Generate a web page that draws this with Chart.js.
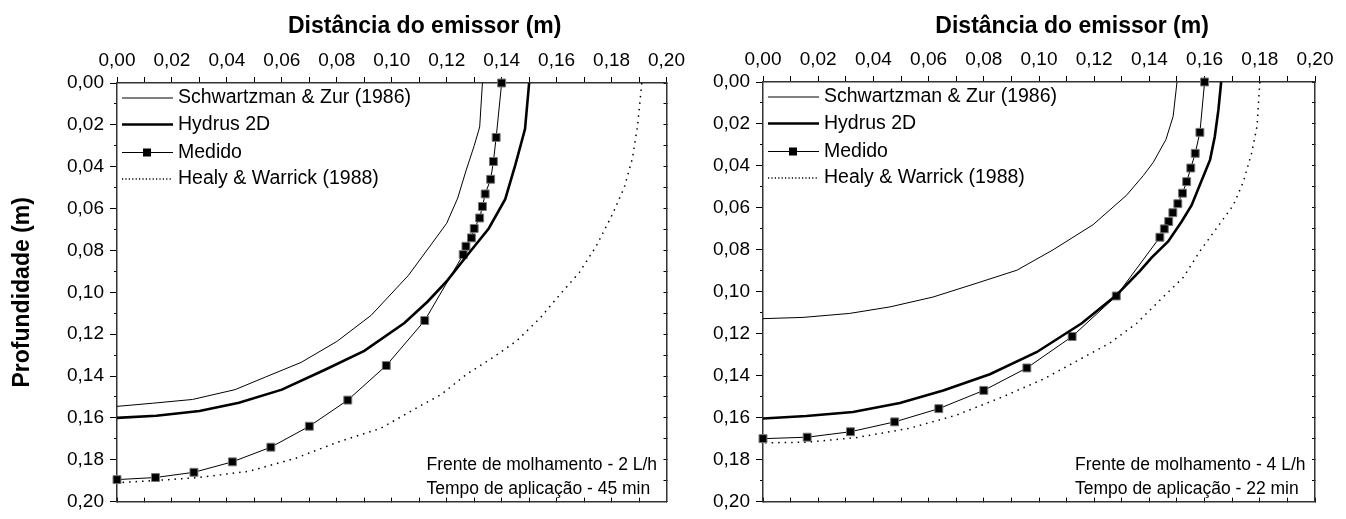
<!DOCTYPE html>
<html>
<head>
<meta charset="utf-8">
<script src="https://cdn.jsdelivr.net/npm/chart.js@4.4.1/dist/chart.umd.min.js"></script>
<style>
  html, body { margin: 0; padding: 0; background: #fff; }
  body { width: 1346px; height: 519px; position: relative; overflow: hidden; }
  .panel { position: absolute; top: 0; height: 519px; }
  #leftPanel { left: 0; width: 690px; }
  #rightPanel { left: 690px; width: 656px; }
</style>
</head>
<body>
<div class="panel" id="leftPanel"><canvas id="chartA"></canvas></div>
<div class="panel" id="rightPanel"><canvas id="chartB"></canvas></div>
<script>
// series names
const seriesNames = ['Schwartzman & Zur (1986)', 'Hydrus 2D', 'Medido', 'Healy & Warrick (1988)'];

// 2 L/h - 45 min : distance (m) / depth (m)
const szA_x = [0.133, 0.132, 0.130, 0.127, 0.124, 0.120, 0.115, 0.106, 0.0925, 0.080, 0.067, 0.054, 0.043, 0.0275, 0.013, 0];
const szA_y = [0, 0.021, 0.030, 0.042, 0.055, 0.067, 0.076, 0.092, 0.111, 0.1235, 0.1335, 0.1405, 0.1465, 0.1512, 0.153, 0.1545];
const hyA_x = [0.150, 0.1485, 0.145, 0.1413, 0.1353, 0.1274, 0.1202, 0.113, 0.1046, 0.090, 0.0757, 0.060, 0.0444, 0.030, 0.0143, 0];
const hyA_y = [0, 0.022, 0.039, 0.0555, 0.0695, 0.0824, 0.0944, 0.1045, 0.1147, 0.128, 0.137, 0.1465, 0.1528, 0.1567, 0.159, 0.160];
const meA_x = [0.140, 0.138, 0.137, 0.136, 0.134, 0.133, 0.132, 0.130, 0.129, 0.127, 0.126, 0.112, 0.098, 0.084, 0.070, 0.056, 0.042, 0.028, 0.014, 0];
const meA_y = [0, 0.026, 0.0375, 0.046, 0.053, 0.059, 0.0645, 0.0695, 0.074, 0.078, 0.082, 0.1135, 0.135, 0.1515, 0.164, 0.174, 0.181, 0.186, 0.1885, 0.1895];
const heA_x = [0.191, 0.1895, 0.1876, 0.1846, 0.1804, 0.1744, 0.1683, 0.161, 0.154, 0.1455, 0.137, 0.1274, 0.1178, 0.110, 0.096, 0.0805, 0.065, 0.048, 0.029, 0.013, 0];
const heA_y = [0, 0.020, 0.036, 0.050, 0.0625, 0.078, 0.0905, 0.1014, 0.1123, 0.1232, 0.131, 0.139, 0.149, 0.1545, 0.165, 0.1715, 0.1793, 0.1855, 0.1886, 0.190, 0.191];

// 4 L/h - 22 min
const szB_x = [0.150, 0.1486, 0.146, 0.1414, 0.1378, 0.1317, 0.1196, 0.1051, 0.092, 0.0786, 0.0616, 0.046, 0.0314, 0.0145, 0];
const szB_y = [0, 0.0164, 0.0274, 0.0383, 0.0446, 0.054, 0.068, 0.080, 0.0897, 0.0954, 0.1025, 0.1072, 0.1103, 0.1122, 0.1128];
const hyB_x = [0.166, 0.165, 0.1637, 0.162, 0.1583, 0.1553, 0.1517, 0.1468, 0.1408, 0.1366, 0.128, 0.1155, 0.0991, 0.0822, 0.0653, 0.0496, 0.0326, 0.0157, 0];
const hyB_y = [0, 0.0133, 0.026, 0.037, 0.049, 0.0587, 0.0665, 0.076, 0.0837, 0.090, 0.1017, 0.115, 0.1288, 0.1393, 0.147, 0.153, 0.1573, 0.1592, 0.1604];
const meB_x = [0.160, 0.1583, 0.1566, 0.155, 0.1535, 0.152, 0.1503, 0.1485, 0.147, 0.1454, 0.1438, 0.128, 0.112, 0.0956, 0.080, 0.0637, 0.0477, 0.0317, 0.016, 0];
const meB_y = [0, 0.024, 0.034, 0.041, 0.0475, 0.053, 0.058, 0.0623, 0.0665, 0.070, 0.074, 0.102, 0.1213, 0.1363, 0.147, 0.1557, 0.162, 0.1667, 0.1693, 0.170];
const heB_x = [0.180, 0.179, 0.1771, 0.174, 0.1704, 0.1644, 0.1583, 0.1523, 0.1438, 0.1354, 0.1257, 0.1148, 0.1016, 0.087, 0.070, 0.0532, 0.0339, 0.0157, 0];
const heB_y = [0, 0.021, 0.0336, 0.0477, 0.0587, 0.0696, 0.0806, 0.0931, 0.104, 0.115, 0.1244, 0.1322, 0.1416, 0.150, 0.1588, 0.165, 0.1695, 0.1717, 0.172];

const notesA = ['Frente de molhamento - 2 L/h', 'Tempo de aplicação - 45 min'];
const notesB = ['Frente de molhamento - 4 L/h', 'Tempo de aplicação - 22 min'];

const xTitle = 'Distância do emissor (m)';
const yTitle = 'Profundidade (m)';

Chart.defaults.font.family = '"Liberation Sans", Arial, sans-serif';
Chart.defaults.color = '#000';

const toPoints = (xs, ys) => xs.map((x, i) => ({ x: x, y: ys[i] }));
const fmt = v => v.toFixed(2).replace('.', ',');
const fmtEven = v => (Math.round(v * 100) % 2 === 0 ? fmt(v) : '');

// titles, legend and notes drawn inside the panel
const decor = {
    id: 'decor',
    afterDraw(chart, args, opts) {
        const ctx = chart.ctx;
        const a = chart.chartArea;
        ctx.save();
        ctx.fillStyle = '#000';

        ctx.font = 'bold 23px "Liberation Sans", Arial, sans-serif';
        ctx.textAlign = 'center';
        ctx.textBaseline = 'alphabetic';
        ctx.fillText(xTitle, a.left + 0.56 * (a.right - a.left), 33);

        const rows = [15, 41.5, 69.5, 96];
        ctx.font = '19.5px "Liberation Sans", Arial, sans-serif';
        ctx.textAlign = 'left';
        ctx.textBaseline = 'middle';
        chart.data.datasets.forEach((ds, i) => {
            const y = a.top + rows[i];
            ctx.strokeStyle = ds.borderColor;
            ctx.lineWidth = ds.borderWidth;
            ctx.setLineDash(ds.legendDash || []);
            ctx.beginPath();
            ctx.moveTo(a.left + 5, y);
            ctx.lineTo(a.left + 56, y);
            ctx.stroke();
            ctx.setLineDash([]);
            if (ds.pointRadius > 0) {
                ctx.fillStyle = ds.pointBackgroundColor;
                ctx.fillRect(a.left + 26, y - 4, 8, 8);
            }
            ctx.fillStyle = '#000';
            ctx.fillText(ds.label, a.left + 61, y);
        });

        ctx.font = '17.5px "Liberation Sans", Arial, sans-serif';
        ctx.textBaseline = 'alphabetic';
        ctx.fillText(opts.notes[0], a.right - 240, a.bottom - 32);
        ctx.fillText(opts.notes[1], a.right - 240, a.bottom - 8);
        ctx.restore();
    }
};

function makePanel(id, sets, notes, leftW, topH, padRight, padBottom, showYTitle) {
    const axisCol = '#333';
    const datasets = [
        { label: seriesNames[0], data: toPoints(sets[0][0], sets[0][1]), borderColor: '#000', borderWidth: 1, pointRadius: 0 },
        { label: seriesNames[1], data: toPoints(sets[1][0], sets[1][1]), borderColor: '#000', borderWidth: 2.6, pointRadius: 0 },
        { label: seriesNames[2], data: toPoints(sets[2][0], sets[2][1]), borderColor: '#000', borderWidth: 1,
          pointStyle: 'rect', pointRadius: 5.6, pointBackgroundColor: '#000', pointBorderColor: '#777', pointBorderWidth: 1 },
        { label: seriesNames[3], data: toPoints(sets[3][0], sets[3][1]), borderColor: '#000', borderWidth: 1.5,
          borderDash: [1.5, 5], legendDash: [1.2, 2.2], pointRadius: 0 }
    ];
    datasets.forEach(d => { d.showLine = true; d.fill = false; d.tension = 0; d.clip = false; d.xAxisID = 'x'; d.yAxisID = 'y'; });

    const range = { type: 'linear', min: 0, max: 0.2 };
    const border = { display: true, color: axisCol, width: 1.5 };

    new Chart(document.getElementById(id), {
        type: 'scatter',
        data: { datasets: datasets },
        options: {
            responsive: true,
            maintainAspectRatio: false,
            animation: false,
            layout: { padding: { left: 0, top: 0, right: padRight, bottom: padBottom } },
            plugins: { legend: { display: false }, tooltip: { enabled: false }, decor: { notes: notes } },
            scales: {
                x: Object.assign({}, range, {
                    position: 'top',
                    ticks: { stepSize: 0.01, autoSkip: false, maxRotation: 0, padding: 5, font: { size: 19 }, callback: fmtEven },
                    grid: { drawOnChartArea: false, tickLength: 6, color: '#000' },
                    border: border,
                    afterFit: s => { s.height = topH; }
                }),
                xb: Object.assign({}, range, {
                    position: 'bottom',
                    ticks: { stepSize: 0.01, display: false },
                    grid: { drawOnChartArea: false, tickLength: -4, color: '#000' },
                    border: border,
                    afterFit: s => { s.height = 0; }
                }),
                y: Object.assign({}, range, {
                    position: 'left', reverse: true, weight: 1,
                    ticks: { stepSize: 0.02, autoSkip: false, padding: 6, font: { size: 19 }, callback: fmt },
                    grid: { drawOnChartArea: false, tickLength: 7, color: '#000' },
                    border: border,
                    title: { display: showYTitle, text: yTitle, font: { size: 23, weight: 'bold' }, padding: { top: 9, bottom: 0 } },
                    afterFit: s => { s.width = leftW; }
                }),
                yMinor: Object.assign({}, range, {
                    position: 'left', reverse: true, weight: 0,
                    ticks: { stepSize: 0.01, display: false },
                    grid: { drawOnChartArea: false, tickLength: 3, color: '#000' },
                    border: { display: false },
                    afterFit: s => { s.width = 0; }
                }),
                yr: Object.assign({}, range, {
                    position: 'right', reverse: true,
                    ticks: { stepSize: 0.01, display: false },
                    grid: { drawOnChartArea: false, tickLength: -3, color: '#000' },
                    border: border,
                    afterFit: s => { s.width = 0; }
                })
            }
        },
        plugins: [decor]
    });
}

makePanel('chartA', [[szA_x, szA_y], [hyA_x, hyA_y], [meA_x, meA_y], [heA_x, heA_y]], notesA, 117, 83, 19, 8, true);
makePanel('chartB', [[szB_x, szB_y], [hyB_x, hyB_y], [meB_x, meB_y], [heB_x, heB_y]], notesB, 73, 82, 31, 11, false);
</script>
</body>
</html>
